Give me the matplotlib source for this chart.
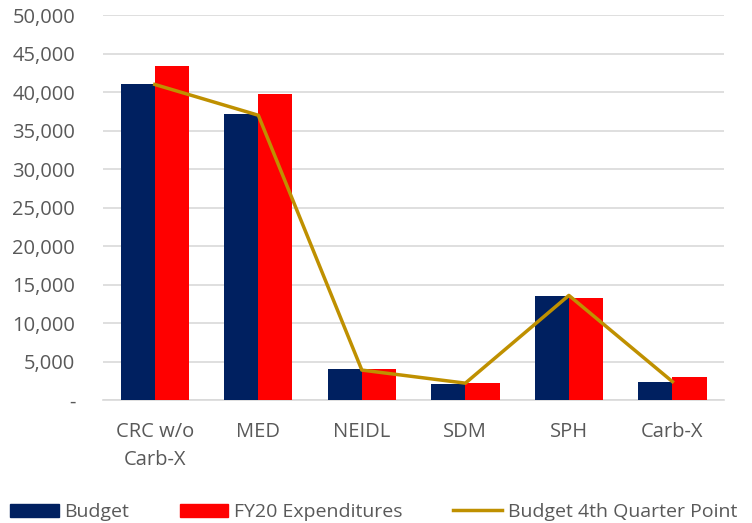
import matplotlib.pyplot as plt
import numpy as np
from matplotlib.lines import Line2D
from matplotlib.patches import Patch

plt.rcParams['font.family'] = ['Open Sans', 'DejaVu Sans']

categories = ["CRC w/o\nCarb-X", "MED", "NEIDL", "SDM", "SPH", "Carb-X"]
budget = [41000, 37100, 4000, 2100, 13500, 2400]
fy20_exp = [43400, 39800, 4100, 2200, 13300, 2950]
q4_point = [41000, 37000, 3900, 2200, 13600, 2400]

navy = "#002060"
red = "#FF0000"
gold = "#BF9000"
txt = "#595959"

fig = plt.figure(figsize=(7.52, 5.23), dpi=100)
ax = fig.add_axes([0.137, 0.235, 0.826, 0.736])

x = np.arange(len(categories))
w = 0.33
ax.bar(x - w / 2, budget, w, color=navy, zorder=3)
ax.bar(x + w / 2, fy20_exp, w, color=red, zorder=3)
ax.plot(x, q4_point, color=gold, lw=2.5, zorder=4)

ax.set_xlim(-0.5, len(categories) - 0.5)
ax.set_ylim(0, 50000)
ax.set_yticks(np.arange(0, 50001, 5000))
ax.yaxis.set_major_formatter(lambda v, p: "-" if v == 0 else f"{v:,.0f}")
ax.set_xticks(x)
ax.set_xticklabels(categories, linespacing=1.5)
ax.grid(axis='y', color="#D9D9D9", lw=1.2, zorder=0)
for s in ['top', 'right', 'left']:
    ax.spines[s].set_visible(False)
ax.spines['bottom'].set_color("#D9D9D9")
ax.spines['bottom'].set_linewidth(1.2)
ax.tick_params(length=0, labelsize=14.5, colors=txt)
ax.tick_params(axis='x', pad=16)
ax.tick_params(axis='y', pad=20)

handles = [Patch(color=navy), Patch(color=red), Line2D([], [], color=gold, lw=2.5)]
labels = ["Budget", "FY20 Expenditures", "Budget 4th Quarter Point"]
fig.legend(handles, labels, loc='lower left', bbox_to_anchor=(-0.01, -0.03), ncol=3,
           frameon=False, fontsize=14, labelcolor=txt, handlelength=2.5,
           handletextpad=0.3, columnspacing=2.6)

fig.savefig("out.png", dpi=100)
